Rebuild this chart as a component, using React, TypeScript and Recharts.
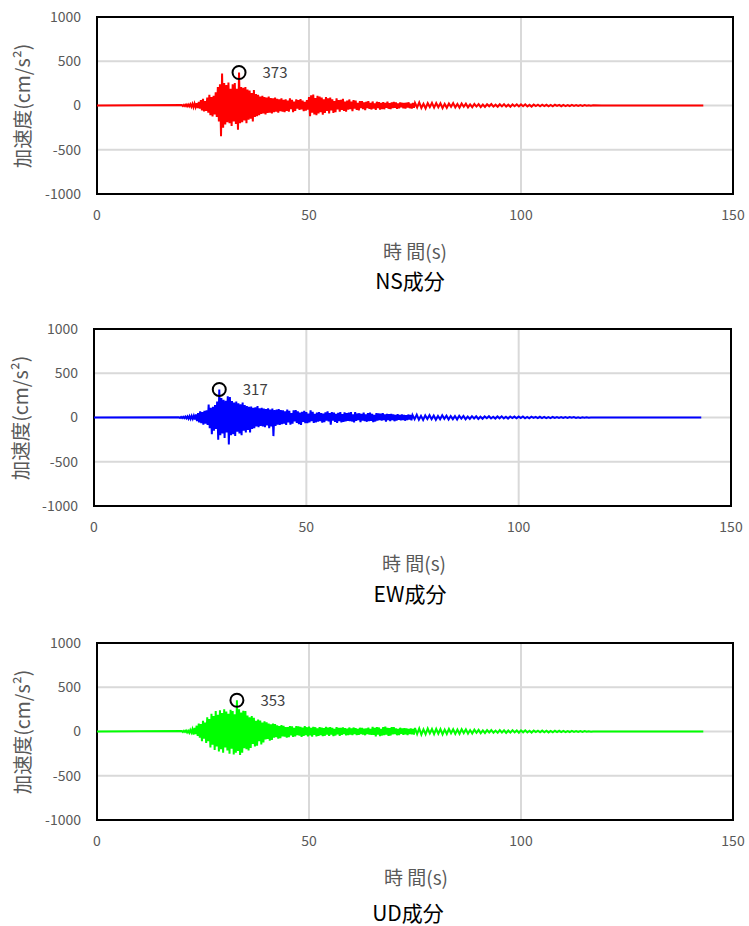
import React from 'react';
import { LineChart, Line, XAxis, YAxis, CartesianGrid, ReferenceDot, ReferenceArea } from 'recharts';

// ---- axis ticks & labels ----
const X_TICKS = [0, 50, 100, 150];
const Y_TICKS = [-1000, -500, 0, 500, 1000];
const Y_TITLE = '加速度(cm/s²)';
const X_TITLE = '時 間(s)';

// ---- time sampling of the records (s) ----
const QUIET_START = 0; // record is quiet (0 cm/s²) from here until the fine segment
const SEG_FINE = { start: 20, step: 0.25 };
const SEG_MID = { start: 45, step: 0.25 };
const SEG_TAIL = { start: 75, step: 0.5 };
const SEG_END = { start: 119, step: 2 };

// ---- NS component (cm/s²) ----
const nsFine = [
  5, -6, 8, -7, 10, -9, 12, -10,
  15, -14, 18, -20, 22, -18, 25, -28,
  40, -35, 60, -55, 75, -67, 50, -60,
  90, -80, 120, -110, 95, -123, 110, -100,
  150, -130, 210, -180,
  240, -347, 360, -250,
  255, -215, 230, -190,
  260, -200, 190, -230,
  240, -180, 255, -210,
  190, -275, 373, -200,
  210, -190, 200, -170,
  210, -200, 180, -160,
  170, -150, 140, -180,
  175, -130, 130, -120,
  120, -110, 100, -95,
  110, -90, 95, -100,
  90, -85, 100, -80,
  85, -90, 80, -75,
  90, -70, 75, -80,
  70, -65, 80, -70,
  65, -75, 70, -60,
];
const nsMid = [
  55, -70, 80, -40, 65, -75, 45, -60, 70, -35,
  60, -50, 72, -45, 55, -65, 40, -58, 62, -48,
  95, -120, 115, -80, 124, -100, 85, -110, 110, -90,
  100, -75, 90, -105, 70, -85, 95, -60, 80, -90,
  90, -55, 70, -85, 50, -75, 80, -45, 60, -70,
  65, -50, 75, -60, 45, -70, 55, -48, 68, -40,
  45, -65, 60, -35, 55, -50, 30, -55, 50, -30,
  48, -40, 35, -52, 42, -28, 50, -38, 30, -45,
  45, -35, 25, -48, 42, -30, 38, -45, 28, -40,
  38, -42, 30, -25, 44, -36, 26, -40, 35, -28,
  40, -25, 35, -38, 22, -32, 35, -20, 30, -33,
  28, -35, 32, -22, 36, -30, 20, -34, 30, -26,
];
const nsTail = [
  30, -22, 35, -28, 20, -33, 26, -18, 30, -24,
  28, -20, 24, -30, 18, -26, 22, -15, 27, -21,
  18, -25, 22, -14, 20, -22, 12, -19, 17, -12,
  15, -18, 10, -16, 14, -9, 16, -13, 9, -14,
  14, -10, 15, -12, 9, -15, 12, -8, 13, -11,
  12, -8, 13, -11, 7, -12, 10, -6, 9, -8,
  10, -7, 8, -10, 6, -9, 8, -5, 7, -8,
  6, -7, 5, -6, 7, -4, 5, -6, 4, -5,
  4, -3, 3, -2, 2,
];
const nsEnd = [1, -1, 1, -1, 1, -1, 1, -1, 1, -1, 1, -1, 0];

// ---- EW component (cm/s²) ----
const ewFine = [
  4, -5, 6, -6, 8, -7, 10, -9,
  12, -14, 15, -16, 18, -15, 20, -22,
  35, -40, 50, -55, 70, -65, 60, -80,
  75, -70, 80, -85, 146, -120, 110, -190,
  120, -150, 140, -130,
  180, -250, 317, -200,
  220, -180, 200, -230,
  190, -170, 240, -305,
  230, -200, 185, -190,
  170, -210, 180, -160,
  160, -180, 150, -200,
  170, -150, 140, -170,
  130, -140, 120, -170,
  125, -130, 110, -120,
  115, -100, 130, -110,
  105, -95, 110, -100,
  100, -110, 95, -90,
  105, -120, 90, -100,
  100, -210, 85, -95,
  90, -80, 95, -85,
  85, -75, 80, -70,
];
const ewMid = [
  70, -85, 90, -55, 75, -80, 50, -70, 80, -45,
  85, -60, 70, -75, 55, -85, 65, -50, 75, -65,
  60, -65, 45, -55, 80, -40, 65, -60, 40, -55,
  55, -48, 62, -40, 50, -58, 45, -52, 58, -35,
  70, -45, 50, -80, 60, -35, 55, -50, 40, -60,
  52, -42, 60, -55, 38, -50, 58, -44, 48, -38,
  55, -40, 60, -45, 35, -55, 62, -38, 45, -30,
  48, -52, 40, -36, 55, -42, 35, -48, 50, -40,
  55, -38, 42, -52, 30, -45, 50, -35, 45, -28,
  44, -36, 50, -30, 34, -46, 40, -28, 38, -42,
  40, -30, 35, -42, 28, -35, 38, -25, 30, -32,
  34, -28, 30, -36, 26, -30, 33, -22, 28, -31,
];
const ewTail = [
  28, -20, 32, -25, 18, -28, 24, -16, 26, -20,
  22, -26, 18, -20, 25, -15, 20, -22, 16, -19,
  16, -22, 20, -12, 18, -20, 10, -16, 15, -11,
  14, -16, 9, -14, 12, -8, 14, -11, 8, -12,
  12, -9, 13, -10, 8, -12, 11, -7, 10, -9,
  10, -7, 11, -9, 6, -10, 9, -5, 8, -7,
  8, -6, 7, -8, 5, -7, 6, -4, 6, -5,
  5, -6, 4, -5, 5, -3, 4, -5, 3, -4,
  3, -2, 2, -2, 1,
];
const ewEnd = [1, -1, 1, -1, 1, -1, 1, -1, 1, -1, 1, -1, 0];

// ---- UD component (cm/s²) ----
const udFine = [
  5, -6, 9, -5, 10, -12, 8, -14,
  18, -12, 25, -35, 40, -30, 65, -50,
  90, -70, 85, -110, 120, -80, 100, -130,
  160, -110, 140, -180, 200, -150, 175, -210,
  230, -170, 190, -225,
  240, -200, 210, -240,
  250, -180, 225, -215,
  200, -250, 245, -195,
  230, -260, 195, -240,
  353, -220, 250, -265,
  215, -240, 235, -190,
  230, -200, 180, -215,
  160, -185, 175, -140,
  155, -170, 120, -160,
  135, -110, 125, -145,
  100, -125, 115, -90,
  105, -85, 90, -105,
  80, -95, 90, -70,
  85, -65, 70, -80,
  60, -75, 72, -55,
  65, -58, 50, -70,
];
const udMid = [
  50, -65, 62, -45, 58, -60, 42, -55, 60, -40,
  58, -48, 52, -62, 45, -50, 60, -42, 48, -56,
  55, -45, 40, -58, 52, -38, 48, -55, 35, -50,
  50, -42, 45, -52, 38, -48, 52, -36, 44, -50,
  50, -35, 42, -52, 30, -45, 48, -32, 40, -48,
  42, -38, 46, -30, 38, -44, 32, -40, 45, -34,
  35, -42, 45, -30, 38, -40, 28, -38, 42, -30,
  40, -35, 32, -42, 36, -28, 44, -34, 30, -38,
  52, -38, 40, -55, 50, -35, 45, -52, 30, -45,
  48, -40, 55, -36, 42, -50, 38, -45, 50, -32,
  48, -30, 35, -42, 28, -40, 42, -25, 35, -38,
  38, -32, 34, -40, 30, -28, 36, -33, 28, -35,
];
const udTail = [
  40, -28, 35, -36, 25, -32, 34, -22, 28, -30,
  30, -25, 27, -32, 22, -28, 30, -20, 25, -27,
  22, -28, 26, -18, 24, -25, 16, -22, 20, -15,
  18, -20, 12, -18, 16, -11, 17, -14, 10, -15,
  15, -12, 14, -16, 11, -13, 15, -10, 12, -14,
  12, -9, 13, -11, 8, -12, 10, -7, 9, -8,
  10, -8, 9, -10, 7, -9, 8, -6, 8, -7,
  6, -7, 5, -6, 7, -4, 5, -6, 4, -5,
  4, -3, 2, -2, 1,
];
const udEnd = [1, -1, 1, -1, 1, -1, 1, -1, 1, -1, 1, -1, 0];

type Row = { t: number; a: number };
type Seg = { start: number; step: number };

function buildRows(fine: number[], mid: number[], tail: number[], end: number[]): Row[] {
  const rows: Row[] = [{ t: QUIET_START, a: 0 }];
  const parts: [Seg, number[]][] = [
    [SEG_FINE, fine],
    [SEG_MID, mid],
    [SEG_TAIL, tail],
    [SEG_END, end],
  ];
  parts.forEach(([seg, vals]) => {
    vals.forEach((a, i) => rows.push({ t: seg.start + i * seg.step, a }));
  });
  return rows;
}

function findPeak(rows: Row[]): Row {
  return rows.reduce((best, r) => (r.a > best.a ? r : best), rows[0]);
}

const FONT = '"Noto Sans CJK JP", "Noto Sans", sans-serif';
const W = 749;
const CHART_H = 217;
const MARGIN_TOP = 10;
const YAXIS_W = 60;

type PanelProps = {
  rows: Row[];
  color: string;
  plotTop: number;
  plotLeft: number;
  plotRight: number;
  name: string;
  axisTitleX: number;
  axisTitleY: number;
  subX: number;
  subY: number;
  yTitleX: number;
};

function Panel(p: PanelProps) {
  const peak = findPeak(p.rows);
  const plotH = CHART_H - MARGIN_TOP - 30;
  return (
    <>
      <div style={{ position: 'absolute', left: 0, top: p.plotTop - MARGIN_TOP, width: W, height: CHART_H }}>
        <LineChart
          width={W}
          height={CHART_H}
          data={p.rows}
          margin={{ top: MARGIN_TOP, right: W - p.plotRight, bottom: 0, left: p.plotLeft - YAXIS_W }}
        >
          <CartesianGrid stroke="#d9d9d9" strokeWidth={2} />
          <XAxis
            dataKey="t"
            type="number"
            domain={[0, 150]}
            ticks={X_TICKS}
            axisLine={false}
            tickLine={false}
            tickSize={6}
            tickMargin={10}
            height={30}
            tick={{ fill: '#595959', fontSize: 14, fontFamily: FONT }}
            allowDataOverflow
          />
          <YAxis
            type="number"
            domain={[-1000, 1000]}
            ticks={Y_TICKS}
            axisLine={false}
            tickLine={false}
            tickSize={6}
            tickMargin={10}
            width={YAXIS_W}
            tick={{ fill: '#595959', fontSize: 14, fontFamily: FONT }}
            interval={0}
          />
          <Line
            type="linear"
            dataKey="a"
            stroke={p.color}
            strokeWidth={2}
            strokeLinejoin="miter"
            dot={false}
            activeDot={false}
            isAnimationActive={false}
          />
          <ReferenceArea
            x1={0}
            x2={150}
            y1={-1000}
            y2={1000}
            fill="none"
            fillOpacity={0}
            stroke="#000"
            strokeWidth={2}
            ifOverflow="visible"
          />
          <ReferenceDot
            x={peak.t}
            y={peak.a}
            r={6.5}
            fill="none"
            stroke="#000"
            strokeWidth={2}
            ifOverflow="visible"
            label={{
              value: String(peak.a),
              position: 'right',
              offset: 17,
              fill: '#404040',
              fontSize: 15,
              fontFamily: FONT,
            }}
          />
        </LineChart>
      </div>
      <div
        style={{
          position: 'absolute',
          left: p.yTitleX,
          top: p.plotTop + plotH / 2,
          transform: 'translate(-50%, -50%) rotate(-90deg)',
          whiteSpace: 'nowrap',
          fontFamily: FONT,
          fontSize: 19.5,
          color: '#595959',
          lineHeight: 1,
        }}
      >
        {Y_TITLE}
      </div>
      <div
        style={{
          position: 'absolute',
          left: p.axisTitleX,
          top: p.axisTitleY,
          transform: 'translate(-50%, -50%)',
          whiteSpace: 'nowrap',
          fontFamily: FONT,
          fontSize: 19,
          color: '#595959',
          lineHeight: 1,
        }}
      >
        {X_TITLE}
      </div>
      <div
        style={{
          position: 'absolute',
          left: p.subX,
          top: p.subY,
          transform: 'translate(-50%, -50%)',
          whiteSpace: 'nowrap',
          fontFamily: FONT,
          fontSize: 21,
          color: '#000',
          lineHeight: 1,
        }}
      >
        {p.name}
      </div>
    </>
  );
}

export default function App() {
  const ns = buildRows(nsFine, nsMid, nsTail, nsEnd);
  const ew = buildRows(ewFine, ewMid, ewTail, ewEnd);
  const ud = buildRows(udFine, udMid, udTail, udEnd);
  return (
    <div style={{ position: 'absolute', left: 0, top: 0, width: W, height: 926, background: '#fff' }}>
      <Panel rows={ns} color="#ff0000" plotTop={17} plotLeft={97} plotRight={733} name="NS成分"
        axisTitleX={415} axisTitleY={250} subX={410} subY={280} yTitleX={22} />
      <Panel rows={ew} color="#0000ff" plotTop={329} plotLeft={94} plotRight={731} name="EW成分"
        axisTitleX={414} axisTitleY={562} subX={410} subY={593} yTitleX={20} />
      <Panel rows={ud} color="#00ff00" plotTop={643} plotLeft={97} plotRight={733} name="UD成分"
        axisTitleX={416} axisTitleY={876} subX={408} subY={912} yTitleX={22} />
    </div>
  );
}
